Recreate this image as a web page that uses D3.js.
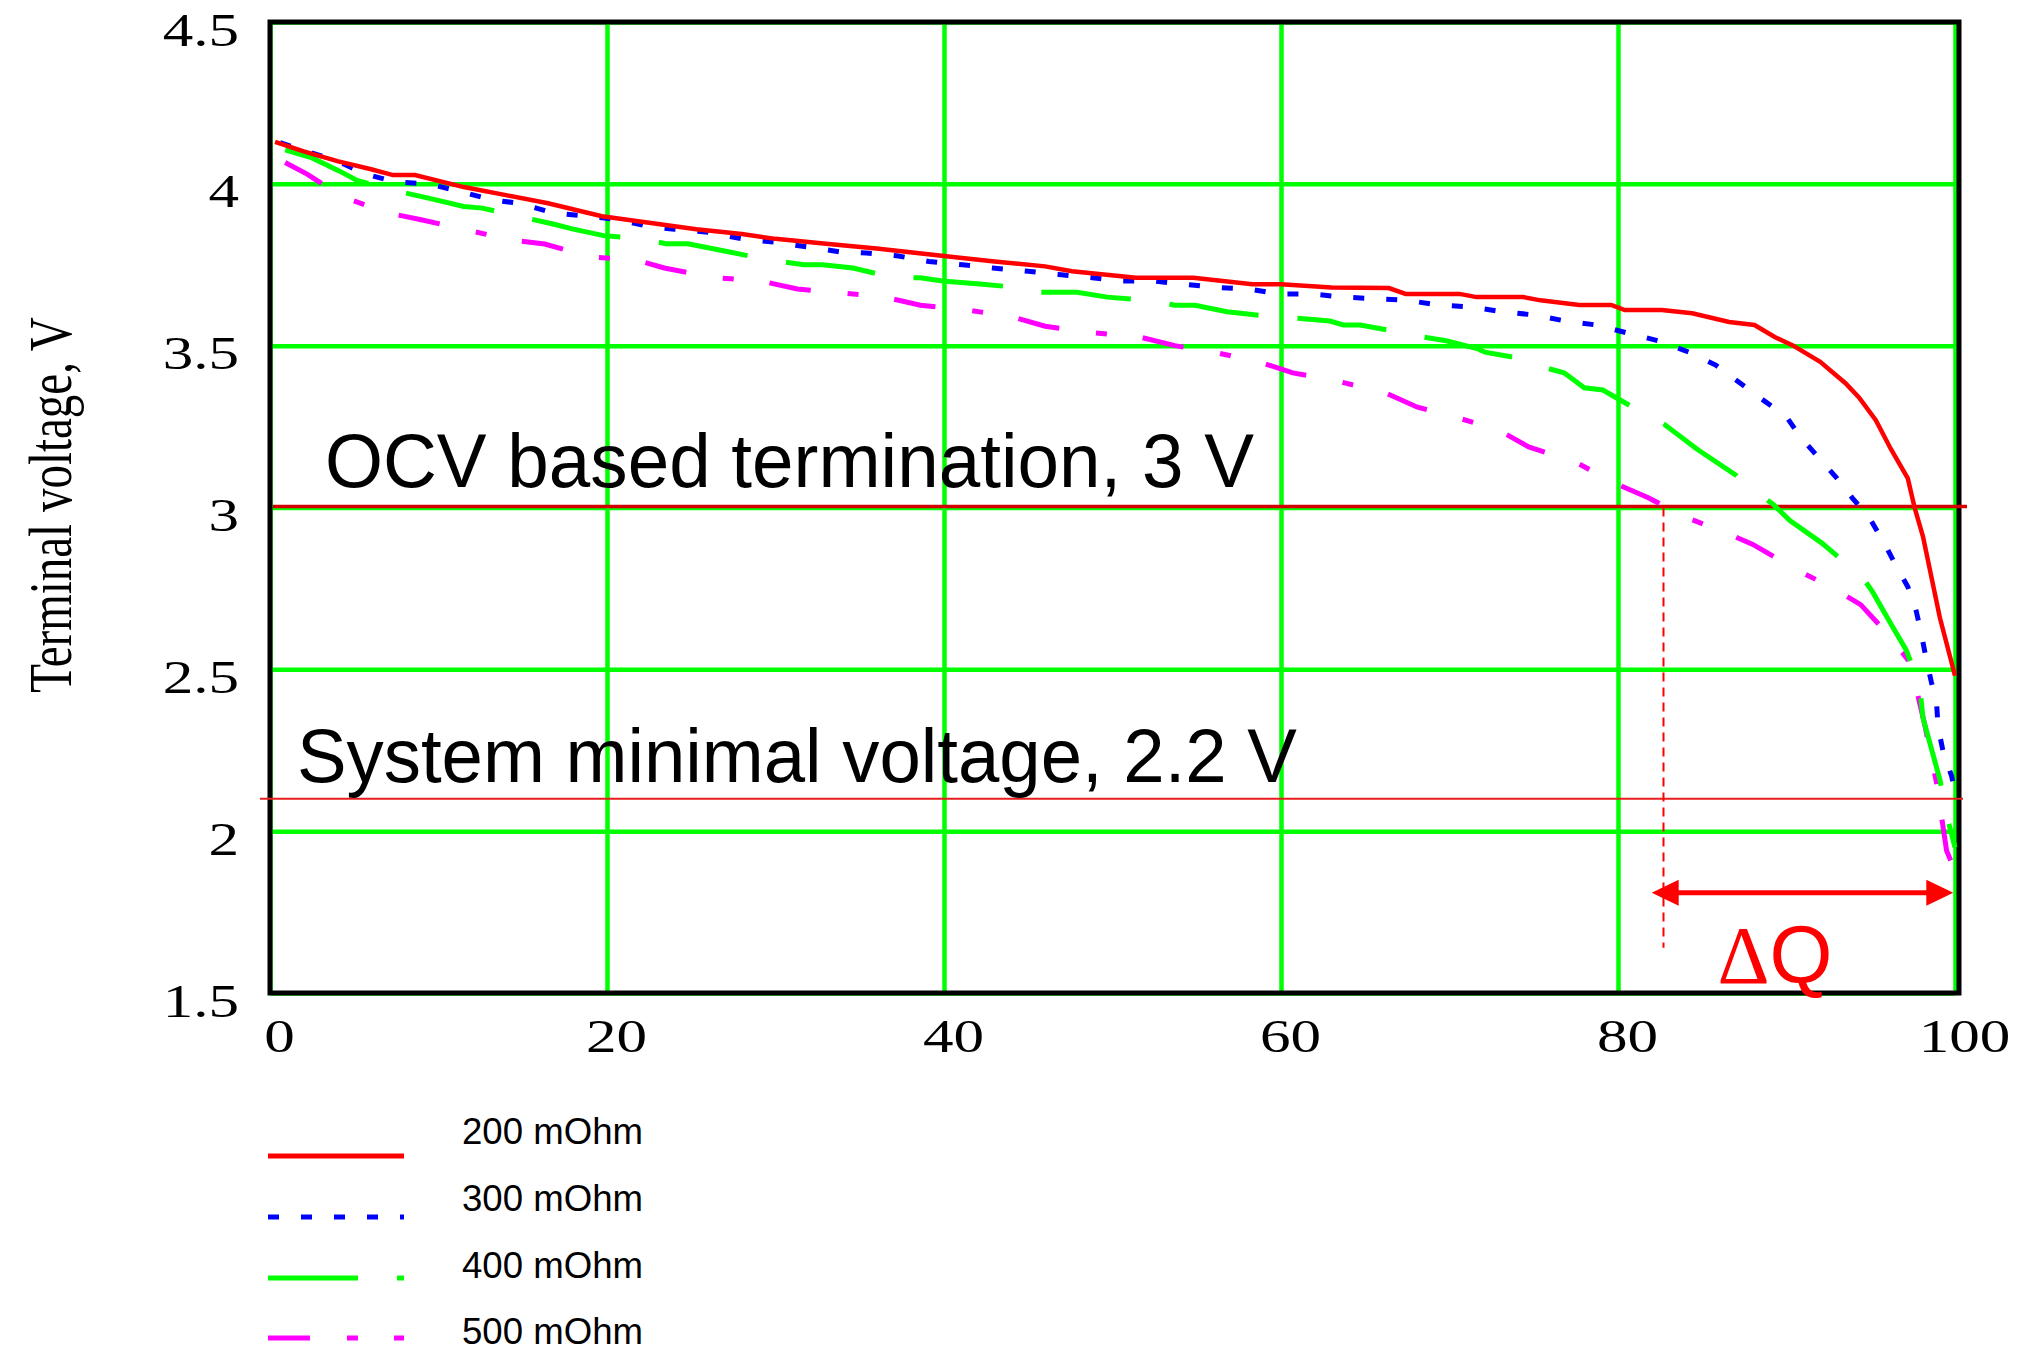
<!DOCTYPE html>
<html>
<head>
<meta charset="utf-8">
<script src="https://cdn.jsdelivr.net/npm/d3@7"></script>
<style>
  body { margin: 0; background: #fff; }
</style>
</head>
<body>
<div id="chart"></div>
<script>
var xTicks = [0, 20, 40, 60, 80, 100]
var yTicks = [1.5, 2, 2.5, 3, 3.5, 4, 4.5]
var seriesNames = ["200 mOhm", "300 mOhm", "400 mOhm", "500 mOhm"]
var yTitle = "Terminal voltage, V"

// 200 mOhm
var x200 = [0.3, 2, 4, 6, 7.3, 8.6, 11.5, 14, 16.5, 19.7, 22.5, 25.3, 28, 30, 33, 36, 40, 43, 46, 47.6, 51.4, 54.8, 58.3, 60, 63, 66.4, 67.4, 70.6, 71.6, 74.4, 75.4, 77.7, 79.6, 80.4, 82.6, 84.4, 86.6, 88.1, 89.3, 90.4, 92, 93.5, 94.3, 95.3, 96.2, 97.2, 97.6, 98.1, 99.1, 100]
var v200 = [4.13, 4.10, 4.07, 4.045, 4.027, 4.027, 3.99, 3.965, 3.94, 3.90, 3.88, 3.86, 3.845, 3.83, 3.815, 3.80, 3.777, 3.76, 3.745, 3.73, 3.71, 3.71, 3.69, 3.69, 3.68, 3.678, 3.66, 3.66, 3.65, 3.65, 3.64, 3.626, 3.626, 3.61, 3.61, 3.60, 3.573, 3.564, 3.527, 3.50, 3.45, 3.384, 3.34, 3.27, 3.18, 3.09, 3.00, 2.91, 2.66, 2.48]

// 300 mOhm
var x300 = [0.6, 2.2, 4.0, 5.7, 7.4, 9.4, 11.4, 13.2, 14.8, 16.8, 18.8, 20.6, 22.6, 24, 26, 28, 29.9, 31.9, 33.8, 35.4, 37.3, 39.1, 41.1, 42.9, 45, 46.8, 48.8, 50.4, 52.4, 54.2, 56.1, 58.1, 59.9, 61.8, 63.7, 65.6, 67.5, 69.3, 71.2, 73.1, 75, 76.9, 78.7, 80.5, 82.4, 84.2, 85.8, 87.1, 88.4, 90, 90.8, 91.8, 93, 93.9, 94.9, 95.8, 96.4, 97.2, 97.7, 98.0, 98.3, 98.6, 98.9, 99.0, 99.3, 99.8, 100]
var v300 = [4.127, 4.10, 4.07, 4.03, 4.006, 4.0, 3.975, 3.95, 3.94, 3.91, 3.90, 3.89, 3.867, 3.86, 3.85, 3.83, 3.82, 3.805, 3.79, 3.786, 3.777, 3.76, 3.75, 3.74, 3.73, 3.72, 3.71, 3.70, 3.70, 3.69, 3.68, 3.675, 3.66, 3.66, 3.65, 3.645, 3.64, 3.626, 3.62, 3.605, 3.595, 3.576, 3.564, 3.54, 3.515, 3.48, 3.44, 3.39, 3.34, 3.28, 3.22, 3.16, 3.09, 3.03, 2.97, 2.89, 2.83, 2.755, 2.68, 2.61, 2.53, 2.46, 2.40, 2.32, 2.245, 2.17, 2.12]

// 400 mOhm
var x400 = [0.9, 2.5, 4.1, 5.2, 7.3, 9.4, 11.5, 12.6, 14.7, 16.8, 18, 19.8, 22.1, 23.5, 24.8, 27.2, 29.6, 31.7, 32.8, 34.6, 37, 38.6, 39.9, 42.3, 44.3, 45.4, 47.9, 49.7, 52, 53.7, 54.9, 56.8, 59.4, 61, 62.9, 63.7, 64.7, 67.2, 68.4, 69.8, 71.7, 72.1, 74.7, 75.8, 76.8, 78, 79.1, 81.2, 82.1, 82.8, 84.7, 87, 87.9, 89.2, 90.2, 92.1, 93.7, 94.7, 95.1, 96.2, 97.1, 97.9, 98.1, 99.1, 99.6, 100]
var v400 = [4.105, 4.08, 4.04, 4.01, 3.98, 3.956, 3.93, 3.925, 3.90, 3.876, 3.86, 3.84, 3.83, 3.815, 3.815, 3.79, 3.765, 3.75, 3.75, 3.74, 3.71, 3.71, 3.70, 3.69, 3.68, 3.665, 3.665, 3.65, 3.64, 3.625, 3.625, 3.605, 3.59, 3.585, 3.576, 3.564, 3.564, 3.54, 3.527, 3.515, 3.49, 3.48, 3.456, 3.43, 3.416, 3.37, 3.363, 3.30, 3.277, 3.255, 3.18, 3.10, 3.06, 3.01, 2.96, 2.89, 2.82, 2.77, 2.74, 2.64, 2.56, 2.45, 2.35, 2.16, 2.03, 1.95]

// 500 mOhm
var x500 = [0.9, 2.2, 4.3, 7.0, 8.9, 11.7, 14.4, 16.3, 19.1, 21.7, 23.4, 26.4, 29.1, 31.3, 33.9, 36.5, 38.6, 41.4, 44, 46, 48.8, 51.6, 53.7, 56.2, 58.7, 60.7, 63.4, 66.2, 68.1, 70.5, 72.9, 74.7, 77.5, 79.8, 81.8, 84, 86.5, 88, 90.5, 92.8, 94.4, 96, 97.2, 97.7, 98.2, 98.9, 99.5, 99.9]
var v500 = [4.066, 4.03, 3.96, 3.91, 3.89, 3.857, 3.826, 3.814, 3.774, 3.765, 3.74, 3.71, 3.70, 3.675, 3.663, 3.65, 3.625, 3.61, 3.59, 3.56, 3.54, 3.527, 3.50, 3.478, 3.45, 3.416, 3.39, 3.354, 3.31, 3.277, 3.24, 3.187, 3.14, 3.075, 3.03, 2.97, 2.92, 2.886, 2.81, 2.75, 2.70, 2.61, 2.53, 2.44, 2.33, 2.15, 1.94, 1.89]

// reference levels and the capacity gap
var ocvLevel = 3.0
var minLevel = 2.1
var qCut = 82.7
var qArrow = [82, 99.9]
var qArrowV = 1.81

var width = 2017, height = 1355
var stretch = 1.3   // the serif labels in the picture are drawn wide

var svg = d3.select("#chart")
  .append("svg")
  .attr("width", width)
  .attr("height", height)
  .style("background", "#fff")

var x = d3.scaleLinear().domain([0, 100]).range([270, 1955])
var y = d3.scaleLinear().domain([1.5, 4.5]).range([993, 22])

var gridCol = "#00ff00"

// grid
svg.append("g")
  .attr("transform", "translate(0," + y(1.5) + ")")
  .call(d3.axisBottom(x).tickValues(xTicks).tickSize(-(y(1.5) - y(4.5))).tickFormat(""))
  .call(g => g.select(".domain").remove())
  .selectAll("line").attr("stroke", gridCol).attr("stroke-width", 4.5)

svg.append("g")
  .attr("transform", "translate(" + x(0) + ",0)")
  .call(d3.axisLeft(y).tickValues(yTicks).tickSize(-(x(100) - x(0))).tickFormat(""))
  .call(g => g.select(".domain").remove())
  .selectAll("line").attr("stroke", gridCol).attr("stroke-width", 4.5)

// frame
svg.append("rect")
  .attr("x", x(0))
  .attr("y", y(4.5))
  .attr("width", x(100) + 4 - x(0))
  .attr("height", y(1.5) - y(4.5))
  .attr("fill", "none")
  .attr("stroke", "#000")
  .attr("stroke-width", 5)

// tick labels
var yAxis = svg.append("g")
  .attr("transform", "translate(" + x(0) + ",0)")
  .call(d3.axisLeft(y).tickValues(yTicks).tickSize(0).tickFormat(d3.format("")))
yAxis.select(".domain").remove()
yAxis.selectAll("text")
  .attr("x", -31 / stretch)
  .attr("dy", 23)
  .attr("transform", "scale(" + stretch + ",1)")
  .attr("text-anchor", "end")
  .style("font-family", "'Liberation Serif', 'Times New Roman', serif")
  .style("font-size", "47px")
  .attr("fill", "#000")

var xAxis = svg.append("g")
  .attr("transform", "translate(0," + y(1.5) + ")")
  .call(d3.axisBottom(x).tickValues(xTicks).tickSize(0).tickFormat(d3.format("")))
xAxis.select(".domain").remove()
xAxis.selectAll("text")
  .attr("x", 9 / stretch)
  .attr("y", 59)
  .attr("dy", 0)
  .attr("transform", "scale(" + stretch + ",1)")
  .attr("text-anchor", "middle")
  .style("font-family", "'Liberation Serif', 'Times New Roman', serif")
  .style("font-size", "47px")
  .attr("fill", "#000")

// y title
svg.append("text")
  .attr("transform", "translate(71,505) scale(" + stretch + ",1) rotate(-90)")
  .attr("text-anchor", "middle")
  .style("font-family", "'Liberation Serif', 'Times New Roman', serif")
  .style("font-size", "47px")
  .text(yTitle)

// reference lines
svg.append("line")
  .attr("x1", x(0) + 3).attr("x2", x(100) + 12)
  .attr("y1", y(ocvLevel) - 1).attr("y2", y(ocvLevel) - 1)
  .attr("stroke", "#d40000").attr("stroke-width", 3.5)

svg.append("line")
  .attr("x1", x(0) - 10).attr("x2", x(100) + 8)
  .attr("y1", y(minLevel)).attr("y2", y(minLevel))
  .attr("stroke", "#e81c1c").attr("stroke-width", 2)

var series = [
  { name: seriesNames[0], xs: x200, vs: v200, color: "#ff0000", dash: null },
  { name: seriesNames[1], xs: x300, vs: v300, color: "#0000ff", dash: "11,22" },
  { name: seriesNames[2], xs: x400, vs: v400, color: "#00ff00", dash: "90,39" },
  { name: seriesNames[3], xs: x500, vs: v500, color: "#ff00ff", dash: "42,37,11,36" }
]

var line = d3.line()
  .x(d => x(d[0]))
  .y(d => y(d[1]))

// draw the higher-resistance curves first so red stays on top
series.slice().reverse().forEach(function (s) {
  svg.append("path")
    .datum(d3.zip(s.xs, s.vs))
    .attr("d", line)
    .attr("fill", "none")
    .attr("stroke", s.color)
    .attr("stroke-width", s.dash ? 5 : 4.5)
    .attr("stroke-dasharray", s.dash)
})

// annotations
var sansFont = "'Liberation Sans', Arial, sans-serif"

svg.append("text")
  .attr("x", x(3.26)).attr("y", y(3.064))
  .attr("textLength", 929).attr("lengthAdjust", "spacingAndGlyphs")
  .style("font-family", sansFont).style("font-size", "76px")
  .text("OCV based termination, 3 V")

svg.append("text")
  .attr("x", x(1.6)).attr("y", y(2.152))
  .attr("textLength", 1000).attr("lengthAdjust", "spacingAndGlyphs")
  .style("font-family", sansFont).style("font-size", "76px")
  .text("System minimal voltage, 2.2 V")

svg.append("line")
  .attr("x1", x(qCut)).attr("x2", x(qCut))
  .attr("y1", y(ocvLevel)).attr("y2", y(1.64))
  .attr("stroke", "#ff0000").attr("stroke-width", 2)
  .attr("stroke-dasharray", "9,6")

var ay = y(qArrowV)
svg.append("line")
  .attr("x1", x(qArrow[0]) + 20).attr("x2", x(qArrow[1]) - 20)
  .attr("y1", ay).attr("y2", ay)
  .attr("stroke", "#ff0000").attr("stroke-width", 5)
svg.append("path")
  .attr("d", "M" + x(qArrow[0]) + "," + ay + " l27,-13 l0,26 Z")
  .attr("fill", "#ff0000")
svg.append("path")
  .attr("d", "M" + x(qArrow[1]) + "," + ay + " l-27,-13 l0,26 Z")
  .attr("fill", "#ff0000")

var dq = svg.append("text")
  .attr("x", x(85.9)).attr("y", y(1.531))
  .attr("textLength", 115).attr("lengthAdjust", "spacingAndGlyphs")
  .style("font-family", sansFont).style("font-size", "82px")
  .attr("fill", "#ff0000")
dq.append("tspan").style("font-family", "'Liberation Serif', serif").text("Δ")
dq.append("tspan").text("Q")

// legend
var legendRows = [1156, 1217, 1278, 1338]
var labelRows = [1144, 1211, 1278, 1344]
series.forEach(function (s, i) {
  svg.append("line")
    .attr("x1", 268).attr("x2", 404)
    .attr("y1", legendRows[i]).attr("y2", legendRows[i])
    .attr("stroke", s.color)
    .attr("stroke-width", 5)
    .attr("stroke-dasharray", s.dash)
  svg.append("text")
    .attr("x", 462).attr("y", labelRows[i])
    .attr("textLength", 181).attr("lengthAdjust", "spacingAndGlyphs")
    .style("font-family", sansFont).style("font-size", "36px")
    .text(s.name)
})
</script>
</body>
</html>
